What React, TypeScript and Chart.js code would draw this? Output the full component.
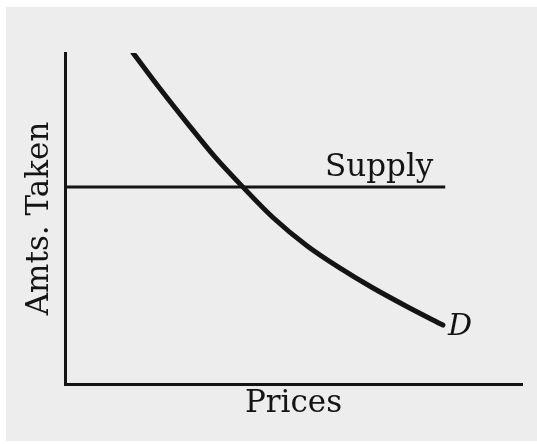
import React, { useEffect, useRef } from "react";
import { Chart, registerables } from "chart.js";

Chart.register(...registerables);

// Demand curve (price -> amount taken)
const demandPrices = [14.9, 20.8, 26.7, 32.8, 39.0, 45.5, 53.0, 60.2, 67.4, 75.1, 82.7];
const demandAmounts = [100, 89.2, 78.9, 68.6, 59.4, 50.3, 41.7, 35.0, 29.0, 23.2, 17.8];

// Supply: fixed amount regardless of price
const supplyPrices = [0, 83.2];
const supplyAmounts = [59.5, 59.5];

const xTitle = "Prices";
const yTitle = "Amts. Taken";
const supplyLabel = "Supply";
const demandLabel = "D";

const INK = "#141414";
const FONT = "'DejaVu Serif', serif";

export default function App() {
  const canvasRef = useRef<HTMLCanvasElement | null>(null);

  useEffect(() => {
    document.body.style.margin = "0";
    const canvas = canvasRef.current;
    if (!canvas) return;

    const paperPlugin = {
      id: "paper",
      beforeDraw(chart: any) {
        const { ctx, width, height } = chart;
        ctx.save();
        ctx.fillStyle = "#ffffff";
        ctx.fillRect(0, 0, width, height);
        ctx.fillStyle = "#ededed";
        ctx.fillRect(6, 7, width - 6, height - 10);
        ctx.restore();
      },
    };

    const labelPlugin = {
      id: "curveLabels",
      afterDatasetsDraw(chart: any) {
        const { ctx, scales } = chart;
        const xs = scales.x;
        const ys = scales.y;
        ctx.save();
        ctx.fillStyle = INK;
        ctx.textBaseline = "alphabetic";
        ctx.textAlign = "left";
        ctx.font = `31px ${FONT}`;
        ctx.fillText(supplyLabel, xs.getPixelForValue(56.9), ys.getPixelForValue(supplyAmounts[0]) - 11);
        const last = demandPrices.length - 1;
        ctx.font = `italic 30px ${FONT}`;
        ctx.fillText(
          demandLabel,
          xs.getPixelForValue(demandPrices[last]) + 5,
          ys.getPixelForValue(demandAmounts[last]) + 10
        );
        ctx.restore();
      },
    };

    const chart = new Chart(canvas, {
      type: "line",
      data: {
        datasets: [
          {
            label: "Demand",
            data: demandPrices.map((p, i) => ({ x: p, y: demandAmounts[i] })),
            borderColor: INK,
            borderWidth: 5,
            borderCapStyle: "round",
            borderJoinStyle: "round",
            pointRadius: 0,
            cubicInterpolationMode: "monotone",
            fill: false,
          },
          {
            label: "Supply",
            data: supplyPrices.map((p, i) => ({ x: p, y: supplyAmounts[i] })),
            borderColor: INK,
            borderWidth: 3,
            pointRadius: 0,
            fill: false,
          },
        ],
      },
      options: {
        animation: false,
        responsive: false,
        maintainAspectRatio: false,
        layout: { padding: { left: 10, top: 53, right: 15, bottom: 10 } },
        plugins: {
          legend: { display: false },
          tooltip: { enabled: false },
        },
        scales: {
          x: {
            type: "linear",
            min: 0,
            max: 100,
            grid: { display: false, drawTicks: false },
            border: { display: true, color: INK, width: 3 },
            ticks: { display: false },
            title: {
              display: true,
              text: xTitle,
              color: INK,
              font: { family: FONT, size: 31, lineHeight: 1 },
              padding: { top: 4.5, bottom: 14.5 },
            },
          },
          y: {
            type: "linear",
            min: 0,
            max: 100,
            grid: { display: false, drawTicks: false },
            border: { display: true, color: INK, width: 3 },
            ticks: { display: false },
            title: {
              display: true,
              text: yTitle,
              color: INK,
              font: { family: FONT, size: 31, lineHeight: 1 },
              padding: { top: 14.5, bottom: 9.5 },
            },
          },
        },
      },
      plugins: [paperPlugin, labelPlugin],
    } as any);

    return () => chart.destroy();
  }, []);

  return (
    <div style={{ width: 537, height: 444 }}>
      <canvas ref={canvasRef} width={537} height={444} />
    </div>
  );
}
